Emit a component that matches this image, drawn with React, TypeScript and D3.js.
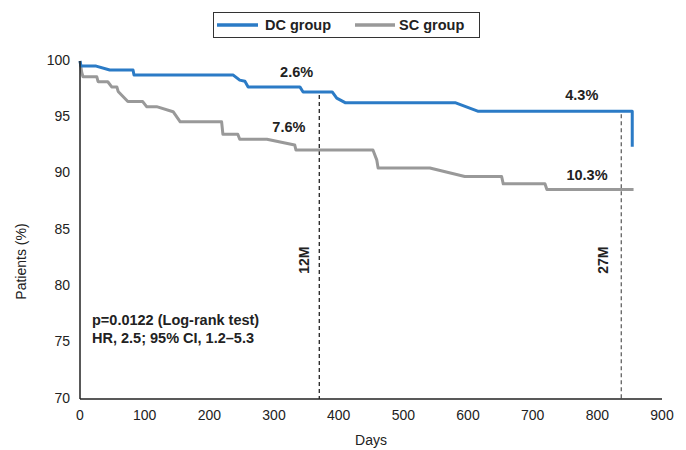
import React from "react";
import * as d3 from "d3";

// Kaplan–Meier curves (day, % patients)
const DC_DAYS = [0, 1.5, 25, 46, 82, 83.5, 237, 247, 255, 260, 340, 345, 390, 397, 410, 580, 615, 854, 854];
const DC_VALUES = [100, 99.55, 99.55, 99.2, 99.2, 98.75, 98.75, 98.3, 98.2, 97.7, 97.7, 97.25, 97.25, 96.7, 96.3, 96.3, 95.55, 95.55, 92.4];

const SC_DAYS = [0, 2.6, 4.6, 26, 28, 43, 49, 57, 59, 74, 97, 103, 118.5, 144, 155, 219, 221, 244, 247, 289, 332, 334, 453, 459, 461, 541, 595, 652, 654.5, 719, 722, 856];
const SC_VALUES = [100, 99.0, 98.6, 98.6, 98.16, 98.16, 97.7, 97.7, 97.3, 96.4, 96.4, 95.95, 95.95, 95.5, 94.6, 94.6, 93.5, 93.5, 93.05, 93.05, 92.55, 92.1, 92.1, 91.2, 90.5, 90.5, 89.75, 89.75, 89.1, 89.1, 88.6, 88.6];

const X_TICKS = [0, 100, 200, 300, 400, 500, 600, 700, 800, 900];
const Y_TICKS = [70, 75, 80, 85, 90, 95, 100];

const SERIES_NAMES = ["DC group", "SC group"];
const MARKER_DAYS = [370, 837];
const MARKER_LABELS = ["12M", "27M"];
const RATE_LABELS = ["2.6%", "7.6%", "4.3%", "10.3%"];
const STATS_LINES = ["p=0.0122 (Log-rank test)", "HR, 2.5; 95% CI, 1.2\u20135.3"];

const BLUE = "#2b7bc6";
const GRAY = "#999999";
const FONT = "'Liberation Sans', Arial, sans-serif";

export default function App() {
  const x = d3.scaleLinear().domain([0, 900]).range([80, 662]);
  const y = d3.scaleLinear().domain([70, 100]).range([399, 61]);

  const line = d3
    .line<[number, number]>()
    .x((d) => x(d[0]))
    .y((d) => y(d[1]));

  const dcPts: [number, number][] = DC_DAYS.map((d, i) => [d, DC_VALUES[i]]);
  const scPts: [number, number][] = SC_DAYS.map((d, i) => [d, SC_VALUES[i]]);

  // value of DC curve at a given day (step lookup)
  const dcAt = (day: number) => {
    let v = DC_VALUES[0];
    for (let i = 0; i < DC_DAYS.length - 1; i++) {
      if (DC_DAYS[i] <= day) v = DC_VALUES[i];
    }
    return v;
  };

  const rateLabelPos = [
    [335, 98.6],
    [323, 93.7],
    [776, 96.5],
    [784, 89.45],
  ];
  const markerLabelX = [305, 604];

  return (
    <svg
      width={686}
      height={450}
      style={{ position: "absolute", left: 0, top: 0, background: "#fff" }}
      fontFamily={FONT}
    >
      <rect x={0} y={0} width={686} height={450} fill="#fff" />

      {/* Legend */}
      <rect x={213.5} y={12.5} width={266} height={25} fill="#fff" stroke="#333" strokeWidth={1} />
      <line x1={217} x2={258} y1={25} y2={25} stroke={BLUE} strokeWidth={3.5} />
      <text x={265} y={30} fontSize={14.5} fontWeight="bold" fill="#222">
        {SERIES_NAMES[0]}
      </text>
      <line x1={355} x2={395} y1={25} y2={25} stroke={GRAY} strokeWidth={3.5} />
      <text x={399} y={30} fontSize={14.5} fontWeight="bold" fill="#222">
        {SERIES_NAMES[1]}
      </text>

      {/* Dashed markers */}
      {MARKER_DAYS.map((d, i) => (
        <g key={"m" + i}>
          <line
            x1={x(d)}
            x2={x(d)}
            y1={y(dcAt(d)) + 3}
            y2={y(70)}
            stroke={i === 0 ? "#111" : "#555"}
            strokeWidth={1.2}
            strokeDasharray="4,3"
          />
          <text
            transform={`translate(${markerLabelX[i]},${(y(80) + y(85)) / 2 + 2}) rotate(-90)`}
            textAnchor="middle"
            dominantBaseline="middle"
            fontSize={14}
            fontWeight="bold"
            fill="#222"
          >
            {MARKER_LABELS[i]}
          </text>
        </g>
      ))}

      {/* Curves */}
      <path d={line(scPts) || ""} fill="none" stroke={GRAY} strokeWidth={3} strokeLinejoin="round" />
      <path d={line(dcPts) || ""} fill="none" stroke={BLUE} strokeWidth={3} strokeLinejoin="round" />

      {/* Rate labels */}
      {RATE_LABELS.map((t, i) => (
        <text
          key={"r" + i}
          x={x(rateLabelPos[i][0])}
          y={y(rateLabelPos[i][1])}
          textAnchor="middle"
          fontSize={14.5}
          fontWeight="bold"
          fill="#222"
        >
          {t}
        </text>
      ))}

      {/* Stats */}
      {STATS_LINES.map((t, i) => (
        <text key={"s" + i} x={92} y={325 + i * 18} fontSize={14.5} fontWeight="bold" fill="#222">
          {t}
        </text>
      ))}

      {/* Axes */}
      <line x1={x(0)} x2={x(900)} y1={y(70)} y2={y(70)} stroke="#222" strokeWidth={1.5} />
      <line x1={x(0)} x2={x(0)} y1={y(100)} y2={y(70)} stroke="#222" strokeWidth={1.5} />

      {Y_TICKS.map((t) => (
        <text
          key={"y" + t}
          x={70}
          y={y(t)}
          textAnchor="end"
          dominantBaseline="middle"
          fontSize={14}
          fill="#222"
        >
          {t}
        </text>
      ))}
      {X_TICKS.map((t) => (
        <text key={"x" + t} x={x(t)} y={420} textAnchor="middle" fontSize={14} fill="#222">
          {t}
        </text>
      ))}

      <text x={371} y={445} textAnchor="middle" fontSize={14} fill="#222">
        Days
      </text>
      <text
        transform={`translate(26,${y(82.2)}) rotate(-90)`}
        textAnchor="middle"
        fontSize={14}
        fill="#222"
      >
        Patients (%)
      </text>
    </svg>
  );
}
